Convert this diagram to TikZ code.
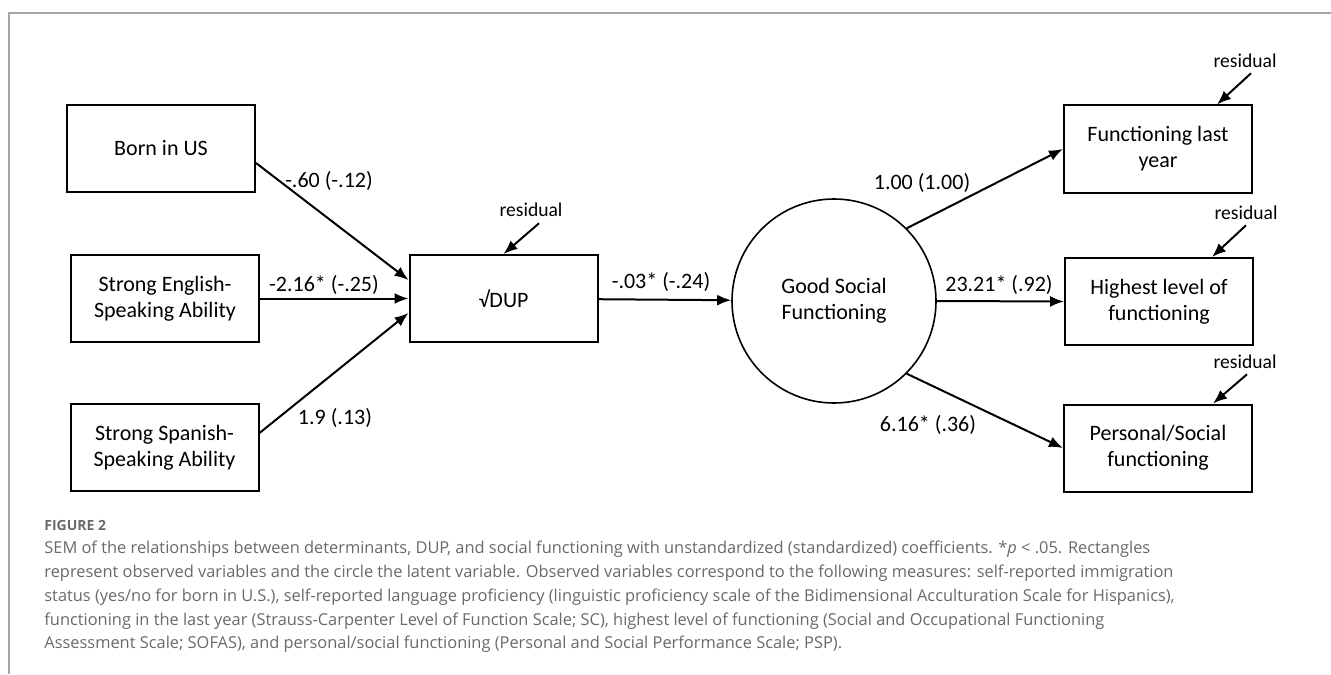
\documentclass[tikz,border=0pt]{standalone}
\usepackage{fontspec}
\setmainfont{Carlito}
\newfontfamily\capfont{Open Sans}
\usepackage{tikz}
\usetikzlibrary{calc,arrows.meta}
\definecolor{capgray}{RGB}{105,105,105}
\definecolor{framegray}{RGB}{165,165,165}

\begin{document}
\begin{tikzpicture}[x=0.5pt,y=-0.5pt, >={Latex[length=7pt,width=5.5pt]},
  obs/.style={rectangle, draw, line width=1pt, minimum width=94pt, minimum height=43.5pt, inner sep=0pt, align=center, font=\fontsize{11}{13}\selectfont},
  lat/.style={circle, draw, line width=0.8pt, minimum size=102pt, inner sep=0pt, align=center, font=\fontsize{11}{13}\selectfont},
  coef/.style={inner sep=0pt, font=\fontsize{11}{13}\selectfont},
  res/.style={inner sep=0pt, font=\fontsize{9.8}{11}\selectfont},
  arr/.style={->, line width=1pt},
  capline/.style={anchor=base west, inner sep=0pt, text=capgray, font=\capfont\fontsize{8.2}{10}\selectfont}]
            \useasboundingbox (0,0) rectangle (1331,674);
            \draw[framegray, line width=0.75pt] (9,674) -- (9,13) -- (1331,13);
            % Nodes
            \node[obs] (born) at (161,148.5) {Born in US};
            \node[obs] (english) at (165,298.5) {Strong English-\\Speaking Ability};
            \node[obs] (spanish) at (164.5,447.5) {Strong Spanish-\\Speaking Ability};
            \node[obs] (dup) at (503.5,298.5) {√DUP};
            \node[lat] (gsf) at (834,301) {Good Social\\Functioning};
            \node[obs] (fly) at (1158,149) {Functioning last\\year};
            \node[obs] (high) at (1159,301.5) {Highest level of\\functioning};
            \node[obs] (pers) at (1158,448) {Personal/Social\\functioning};
            \node[res] (resdup) at (531,210) {residual};
            \node[res] (resfly) at (1245,61) {residual};
            \node[res] (reshigh) at (1246,213) {residual};
            \node[res] (respers) at (1245,362) {residual};
            % Edges
            \draw[arr] ($(born.east)+(0,14.5)$) -- ($(dup.west)+(0,-18.5)$);
            \draw[arr] (english.east) -- (dup.west);
            \draw[arr] ($(spanish.east)+(0,-14.5)$) -- ($(dup.west)+(0,14.5)$);
            \draw[arr] (dup) -- (gsf);
            \draw[arr] (gsf.45) -- (fly.west);
            \draw[arr] (gsf.east) -- (high.west);
            \draw[arr] (gsf.-45) -- (pers.west);
            \draw[arr] ($(resdup.south)+(8,6)$) -- (dup.north);
            \draw[arr] ($(resfly.south)+(6,5)$) -- ($(fly.north east)+(-36,0)$);
            \draw[arr] ($(reshigh.south)+(0,5)$) -- ($(high.north east)+(-42,0)$);
            \draw[arr] ($(respers.south)+(2,5)$) -- ($(pers.north east)+(-40,0)$);
            % Coefficients
            \node[coef] (c1) at (329,181) {-.60 (-.12)};
            \node[coef] (c2) at (324,285) {-2.16* (-.25)};
            \node[coef] (c3) at (335,418) {1.9 (.13)};
            \node[coef] (c4) at (661,282) {-.03* (-.24)};
            \node[coef] (c5) at (922,183) {1.00 (1.00)};
            \node[coef] (c6) at (999,285) {23.21* (.92)};
            \node[coef] (c7) at (928,425) {6.16* (.36)};
            % Caption
            \node[capline, font=\capfont\bfseries\fontsize{7}{9}\selectfont] (fig) at (44,530) {FIGURE 2};
            \node[capline] (cap1) at (44,553) {SEM of the relationships between determinants, DUP, and social functioning with unstandardized (standardized) coefficients. *\textit{p} < .05. Rectangles};
            \node[capline] (cap2) at (44,577) {represent observed variables and the circle the latent variable. Observed variables correspond to the following measures: self-reported immigration};
            \node[capline] (cap3) at (44,601) {status (yes/no for born in U.S.), self-reported language proficiency (linguistic proficiency scale of the Bidimensional Acculturation Scale for Hispanics),};
            \node[capline] (cap4) at (44,625) {functioning in the last year (Strauss-Carpenter Level of Function Scale; SC), highest level of functioning (Social and Occupational Functioning};
            \node[capline] (cap5) at (44,648) {Assessment Scale; SOFAS), and personal/social functioning (Personal and Social Performance Scale; PSP).};
        \end{tikzpicture}
\end{document}
